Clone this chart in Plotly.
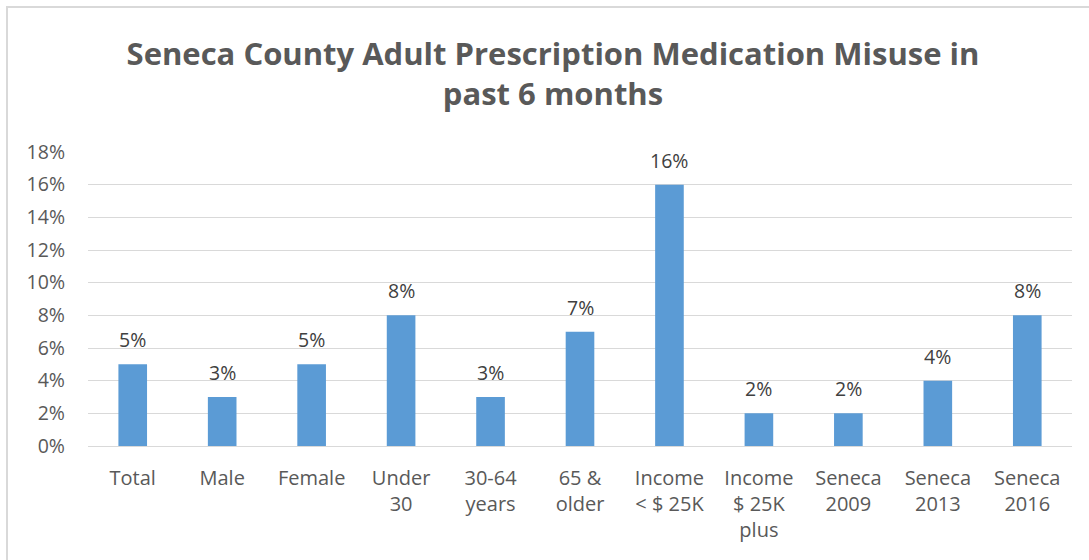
import plotly.graph_objects as go

categories = ["Total", "Male", "Female", "Under<br>30", "30-64<br>years", "65 &<br>older",
              "Income<br>< $ 25K", "Income<br>$ 25K<br>plus", "Seneca<br>2009", "Seneca<br>2013", "Seneca<br>2016"]
values = [0.05, 0.03, 0.05, 0.08, 0.03, 0.07, 0.16, 0.02, 0.02, 0.04, 0.08]
y_ticks = [0, 0.02, 0.04, 0.06, 0.08, 0.10, 0.12, 0.14, 0.16, 0.18]

FONT = "Open Sans"
GRAY = "#595959"

fig = go.Figure()
fig.add_trace(go.Bar(
    x=categories, y=values,
    marker=dict(color="#5B9BD5", line=dict(width=0)),
    hoverinfo="skip",
))

for c, v in zip(categories, values):
    fig.add_annotation(x=c, y=v, text=f"{round(v*100)}%", showarrow=False,
                       yanchor="bottom", yshift=9,
                       font=dict(family=FONT, size=19.5, color="#404040"))

W, H = 1089, 560
L, R, T, B = 88, 17, 152, 114
pw, ph = W - L - R, H - T - B
def px(x):
    return (x - L) / pw
def py(y):
    return (H - B - y) / ph

fig.add_shape(type="rect", xref="paper", yref="paper",
              x0=px(7), x1=px(1100), y0=py(575), y1=py(7),
              line=dict(color="#D9D9D9", width=2), fillcolor="rgba(0,0,0,0)", layer="below")

fig.update_layout(
    width=W, height=H,
    margin=dict(l=L, r=R, t=T, b=B),
    paper_bgcolor="white", plot_bgcolor="white",
    bargap=0.68,
    showlegend=False,
    title=dict(text="Seneca County Adult Prescription Medication Misuse in<br>past 6 months",
               xref="container", x=553 / W, xanchor="center",
               yref="container", y=1 - 65 / H, yanchor="middle",
               font=dict(family=FONT, size=31, color=GRAY, weight="bold")),
    font=dict(family=FONT, color=GRAY, size=20),
)
fig.update_xaxes(
    type="category", showgrid=False, showline=True, linecolor="#D9D9D9", linewidth=1,
    ticks="", ticklabelstandoff=14, tickfont=dict(family=FONT, size=20, color=GRAY),
    tickangle=0,
)
fig.update_yaxes(
    range=[0, 0.18], tickvals=y_ticks, tickformat=".0%",
    showgrid=True, gridcolor="#D9D9D9", gridwidth=1, zeroline=False,
    showline=False, ticks="", ticklabelstandoff=22,
    tickfont=dict(family=FONT, size=19.5, color=GRAY),
)

fig.write_html("out.html", config={"displayModeBar": False},
               post_script="document.body.style.margin='0';document.body.style.overflow='hidden';")
